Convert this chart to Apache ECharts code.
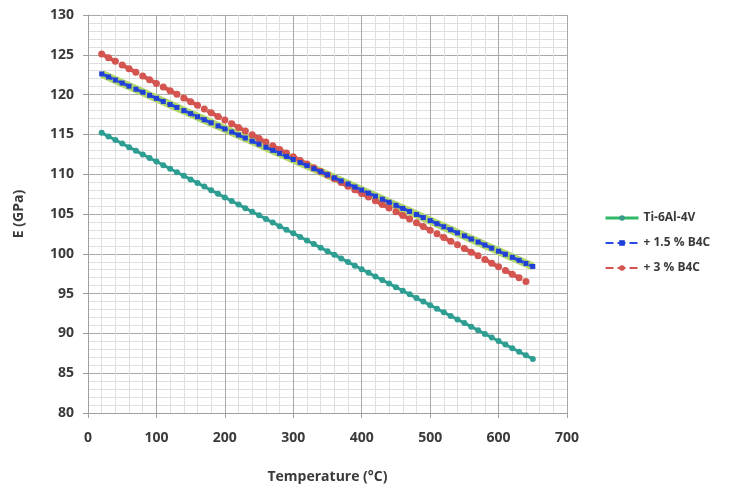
<!DOCTYPE html>
<html>
<head>
<meta charset="utf-8">
<script src="https://cdn.jsdelivr.net/npm/echarts@6/dist/echarts.min.js"></script>
<style>
  html, body { margin: 0; padding: 0; background: #fff; }
  #chart { width: 744px; height: 489px; }
</style>
</head>
<body>
<div id="chart"></div>
<script>
// temperatures (°C), one marker every 10 degrees
const temps = [20, 30, 40, 50, 60, 70, 80, 90, 100, 110, 120, 130, 140, 150, 160, 170, 180, 190,
  200, 210, 220, 230, 240, 250, 260, 270, 280, 290, 300, 310, 320, 330, 340, 350, 360, 370, 380, 390,
  400, 410, 420, 430, 440, 450, 460, 470, 480, 490, 500, 510, 520, 530, 540, 550, 560, 570, 580, 590,
  600, 610, 620, 630, 640, 650];

// + 1.5 % B4C (the Ti-6Al-4V line sits right under it)
const b4c15 = [122.60, 122.22, 121.83, 121.45, 121.06, 120.68, 120.30, 119.91, 119.53, 119.14,
  118.76, 118.38, 117.99, 117.61, 117.22, 116.84, 116.46, 116.07, 115.69, 115.30,
  114.92, 114.54, 114.15, 113.77, 113.38, 113.00, 112.62, 112.23, 111.85, 111.46,
  111.08, 110.70, 110.31, 109.93, 109.54, 109.16, 108.78, 108.39, 108.01, 107.62,
  107.24, 106.86, 106.47, 106.09, 105.70, 105.32, 104.94, 104.55, 104.17, 103.78,
  103.40, 103.02, 102.63, 102.25, 101.86, 101.48, 101.10, 100.71, 100.33, 99.94,
  99.56, 99.18, 98.79, 98.41];
const ti64 = b4c15.slice();

// + 3 % B4C (stops at 640 °C)
const b4c3 = [125.10, 124.64, 124.18, 123.72, 123.26, 122.80, 122.33, 121.87, 121.41, 120.95,
  120.49, 120.03, 119.57, 119.11, 118.65, 118.19, 117.72, 117.26, 116.80, 116.34,
  115.88, 115.42, 114.96, 114.50, 114.04, 113.58, 113.11, 112.65, 112.19, 111.73,
  111.27, 110.81, 110.35, 109.89, 109.43, 108.97, 108.50, 108.04, 107.58, 107.12,
  106.66, 106.20, 105.74, 105.28, 104.82, 104.36, 103.89, 103.43, 102.97, 102.51,
  102.05, 101.59, 101.13, 100.67, 100.21, 99.75, 99.28, 98.82, 98.36, 97.90,
  97.44, 96.98, 96.52];

// lower teal curve (no legend entry)
const lower = [115.20, 114.75, 114.30, 113.85, 113.40, 112.94, 112.49, 112.04, 111.59, 111.14,
  110.69, 110.24, 109.79, 109.34, 108.89, 108.44, 107.98, 107.53, 107.08, 106.63,
  106.18, 105.73, 105.28, 104.83, 104.38, 103.93, 103.47, 103.02, 102.57, 102.12,
  101.67, 101.22, 100.77, 100.32, 99.87, 99.42, 98.96, 98.51, 98.06, 97.61,
  97.16, 96.71, 96.26, 95.81, 95.36, 94.91, 94.45, 94.00, 93.55, 93.10,
  92.65, 92.20, 91.75, 91.30, 90.85, 90.40, 89.94, 89.49, 89.04, 88.59,
  88.14, 87.69, 87.24, 86.79];

const pairs = (ys) => ys.map((y, i) => [temps[i], y]);

const font = "'Open Sans', 'Liberation Sans', sans-serif";
const txt = { color: '#3a3a3a', fontFamily: font, fontWeight: 'bold', fontSize: 14 };

const chart = echarts.init(document.getElementById('chart'));
chart.setOption({
  animation: false,
  grid: { left: 88, right: 177, top: 15, bottom: 73 },
  legend: {
    orient: 'vertical',
    left: 599,
    top: 207,
    itemGap: 13,
    itemWidth: 33,
    itemHeight: 7,
    textStyle: { color: '#3a3a3a', fontFamily: font, fontWeight: 'bold', fontSize: 12 },
    data: [
      { name: 'Ti-6Al-4V', lineStyle: { color: '#2fb865', width: 3, type: 'solid' },
        itemStyle: { color: '#3a9a8a' } },
      { name: '+ 1.5 % B4C' },
      { name: '+ 3 % B4C' }
    ]
  },
  xAxis: {
    type: 'value',
    min: 0, max: 700, interval: 100,
    name: 'Temperature (°C)',
    nameLocation: 'middle',
    nameGap: 57,
    nameTextStyle: txt,
    axisLine: { show: true, lineStyle: { color: '#a0a0a0' } },
    axisTick: { show: true, length: 5, lineStyle: { color: '#a0a0a0' } },
    axisLabel: Object.assign({ margin: 18 }, txt),
    splitLine: { show: true, lineStyle: { color: '#a8a8a8', width: 1 } },
    minorTick: { show: true, splitNumber: 5, length: 0 },
    minorSplitLine: { show: true, lineStyle: { color: '#dedede', width: 1 } }
  },
  yAxis: {
    type: 'value',
    min: 80, max: 130, interval: 5,
    name: 'E (GPa)',
    nameLocation: 'middle',
    nameGap: 62,
    nameTextStyle: txt,
    axisLine: { show: true, lineStyle: { color: '#a0a0a0' } },
    axisTick: { show: true, length: 5, lineStyle: { color: '#a0a0a0' } },
    axisLabel: Object.assign({ margin: 14 }, txt),
    splitLine: { show: true, lineStyle: { color: '#a8a8a8', width: 1 } },
    minorTick: { show: true, splitNumber: 5, length: 0 },
    minorSplitLine: { show: true, lineStyle: { color: '#dedede', width: 1 } }
  },
  series: [
    {
      name: 'lower',
      type: 'line',
      data: pairs(lower),
      symbol: 'circle',
      symbolSize: 6,
      itemStyle: { color: '#2e9e92' },
      lineStyle: { color: '#2e9e92', width: 3 },
      z: 2
    },
    {
      name: 'Ti-6Al-4V',
      type: 'line',
      data: pairs(ti64),
      symbol: 'none',
      itemStyle: { color: '#b2d66a' },
      lineStyle: { color: '#b2d66a', width: 8 },
      z: 2
    },
    {
      name: '+ 3 % B4C',
      type: 'line',
      data: pairs(b4c3),
      symbol: 'circle',
      symbolSize: 7,
      itemStyle: { color: '#d45550' },
      lineStyle: { color: '#d45550', width: 4, type: 'dashed' },
      z: 3
    },
    {
      name: '+ 1.5 % B4C',
      type: 'line',
      data: pairs(b4c15),
      symbol: 'rect',
      symbolSize: 5,
      itemStyle: { color: '#1f3fd6' },
      lineStyle: { color: '#2a4ae0', width: 3, type: 'dashed' },
      z: 4
    }
  ]
});
</script>
</body>
</html>
